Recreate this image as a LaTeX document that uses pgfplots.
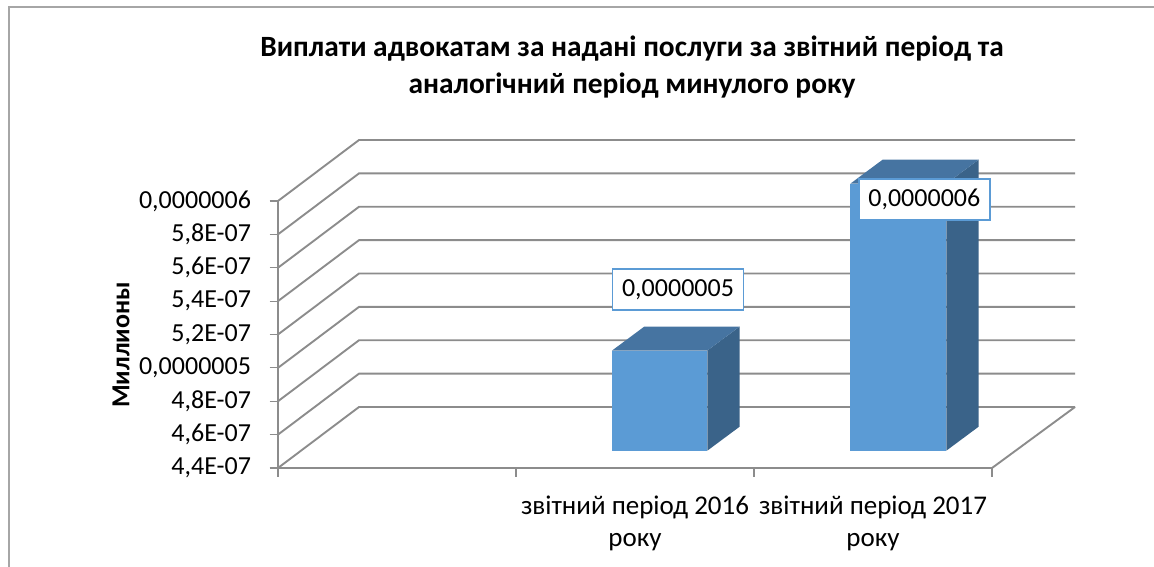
\documentclass[border=0pt]{standalone}
\usepackage{fontspec}
\setmainfont{Carlito}
\usepackage{pgfplots}
\pgfplotsset{compat=1.18}
\definecolor{gridgray}{HTML}{8C8C8C}
\definecolor{framegray}{HTML}{A6A6A6}
\definecolor{barfront}{HTML}{5B9BD5}
\definecolor{bartop}{HTML}{4674A1}
\definecolor{barside}{HTML}{3A6389}
\begin{document}
\begin{tikzpicture}[x=1pt,y=1pt]
\path[use as bounding box] (0,0) rectangle (1154,-567);
\draw[framegray,line width=1.5pt] (9,-567) -- (9,-7) -- (1154,-7);
\node[align=center,font=\fontsize{29.4}{37}\selectfont\bfseries] at (632,-67)
  {Виплати адвокатам за надані послуги за звітний період та\\аналогічний період минулого року};
\node[rotate=90,font=\fontsize{26}{28}\selectfont\bfseries] at (121,-345) {Миллионы};
\begin{axis}[
    at={(278pt,-468pt)}, anchor=south west,
    scale only axis, width=797pt, height=329pt,
    xmin=0, xmax=3.3487,
    ymin=4.4e-7, ymax=6.3715e-7,
    clip=false,
    axis lines=left,
    axis line style={draw=none,-},
    tick align=outside,
    tick style={gridgray,line width=1.2pt},
    major tick length=8.5pt,
    scaled y ticks=false,
    xtick={0,1,2,3},
    xticklabels={},
    extra x ticks={1.5,2.5},
    extra x tick labels={{звітний період 2016\\року},{звітний період 2017\\року}},
    extra x tick style={major tick length=0pt,tick style={draw=none}},
    xticklabel style={align=center,yshift=-24pt,font=\fontsize{27}{32}\selectfont},
    ytick={4.4e-7,4.6e-7,4.8e-7,5e-7,5.2e-7,5.4e-7,5.6e-7,5.8e-7,6e-7},
    yticklabels={{4,4E-07},{4,6E-07},{4,8E-07},{0,0000005},{5,2E-07},{5,4E-07},{5,6E-07},{5,8E-07},{0,0000006}},
    yticklabel style={xshift=-15pt,font=\fontsize{26}{30}\selectfont},
  ]
% walls
\addplot[gridgray,line width=1.9pt] coordinates {(0,4.4e-7) (0.3403,4.7655e-7) (3.3487,4.7655e-7)};
\addplot[gridgray,line width=1.9pt] coordinates {(0,4.6e-7) (0.3403,4.9655e-7) (3.3487,4.9655e-7)};
\addplot[gridgray,line width=1.9pt] coordinates {(0,4.8e-7) (0.3403,5.1655e-7) (3.3487,5.1655e-7)};
\addplot[gridgray,line width=1.9pt] coordinates {(0,5.0e-7) (0.3403,5.3655e-7) (3.3487,5.3655e-7)};
\addplot[gridgray,line width=1.9pt] coordinates {(0,5.2e-7) (0.3403,5.5655e-7) (3.3487,5.5655e-7)};
\addplot[gridgray,line width=1.9pt] coordinates {(0,5.4e-7) (0.3403,5.7655e-7) (3.3487,5.7655e-7)};
\addplot[gridgray,line width=1.9pt] coordinates {(0,5.6e-7) (0.3403,5.9655e-7) (3.3487,5.9655e-7)};
\addplot[gridgray,line width=1.9pt] coordinates {(0,5.8e-7) (0.3403,6.1655e-7) (3.3487,6.1655e-7)};
\addplot[gridgray,line width=1.9pt] coordinates {(0,6.0e-7) (0.3403,6.3655e-7) (3.3487,6.3655e-7)};
% axes and floor edge
\addplot[gridgray,line width=1.9pt] coordinates {(0,6.0e-7) (0,4.4e-7) (3,4.4e-7) (3.3487,4.7655e-7)};
% bar 1, value 5e-7
\addplot[fill=barside,draw=none] coordinates {(1.8038,4.5037e-7) (1.9395,4.6475e-7) (1.9395,5.2475e-7) (1.8038,5.1037e-7)} -- cycle;
\addplot[fill=bartop,draw=none] coordinates {(1.4034,5.1037e-7) (1.5391,5.2475e-7) (1.9395,5.2475e-7) (1.8038,5.1037e-7)} -- cycle;
\addplot[fill=barfront,draw=none] coordinates {(1.4034,4.5037e-7) (1.8038,4.5037e-7) (1.8038,5.1037e-7) (1.4034,5.1037e-7)} -- cycle;
% bar 2, value 6e-7
\addplot[fill=barside,draw=none] coordinates {(2.8080,4.5037e-7) (2.9437,4.6475e-7) (2.9437,6.2475e-7) (2.8080,6.1037e-7)} -- cycle;
\addplot[fill=bartop,draw=none] coordinates {(2.4046,6.1037e-7) (2.5403,6.2475e-7) (2.9437,6.2475e-7) (2.8080,6.1037e-7)} -- cycle;
\addplot[fill=barfront,draw=none] coordinates {(2.4046,4.5037e-7) (2.8080,4.5037e-7) (2.8080,6.1037e-7) (2.4046,6.1037e-7)} -- cycle;
% data labels
\node[draw=barfront,fill=white,line width=1.5pt,minimum width=131pt,minimum height=41pt,inner sep=0pt,font=\fontsize{26}{30}\selectfont]
  at (axis cs:1.6807,5.4685e-7) {0,0000005};
\node[draw=barfront,fill=white,line width=1.5pt,minimum width=131pt,minimum height=41pt,inner sep=0pt,font=\fontsize{26}{30}\selectfont]
  at (axis cs:2.7156,6.0075e-7) {0,0000006};
\end{axis}
\end{tikzpicture}
\end{document}
